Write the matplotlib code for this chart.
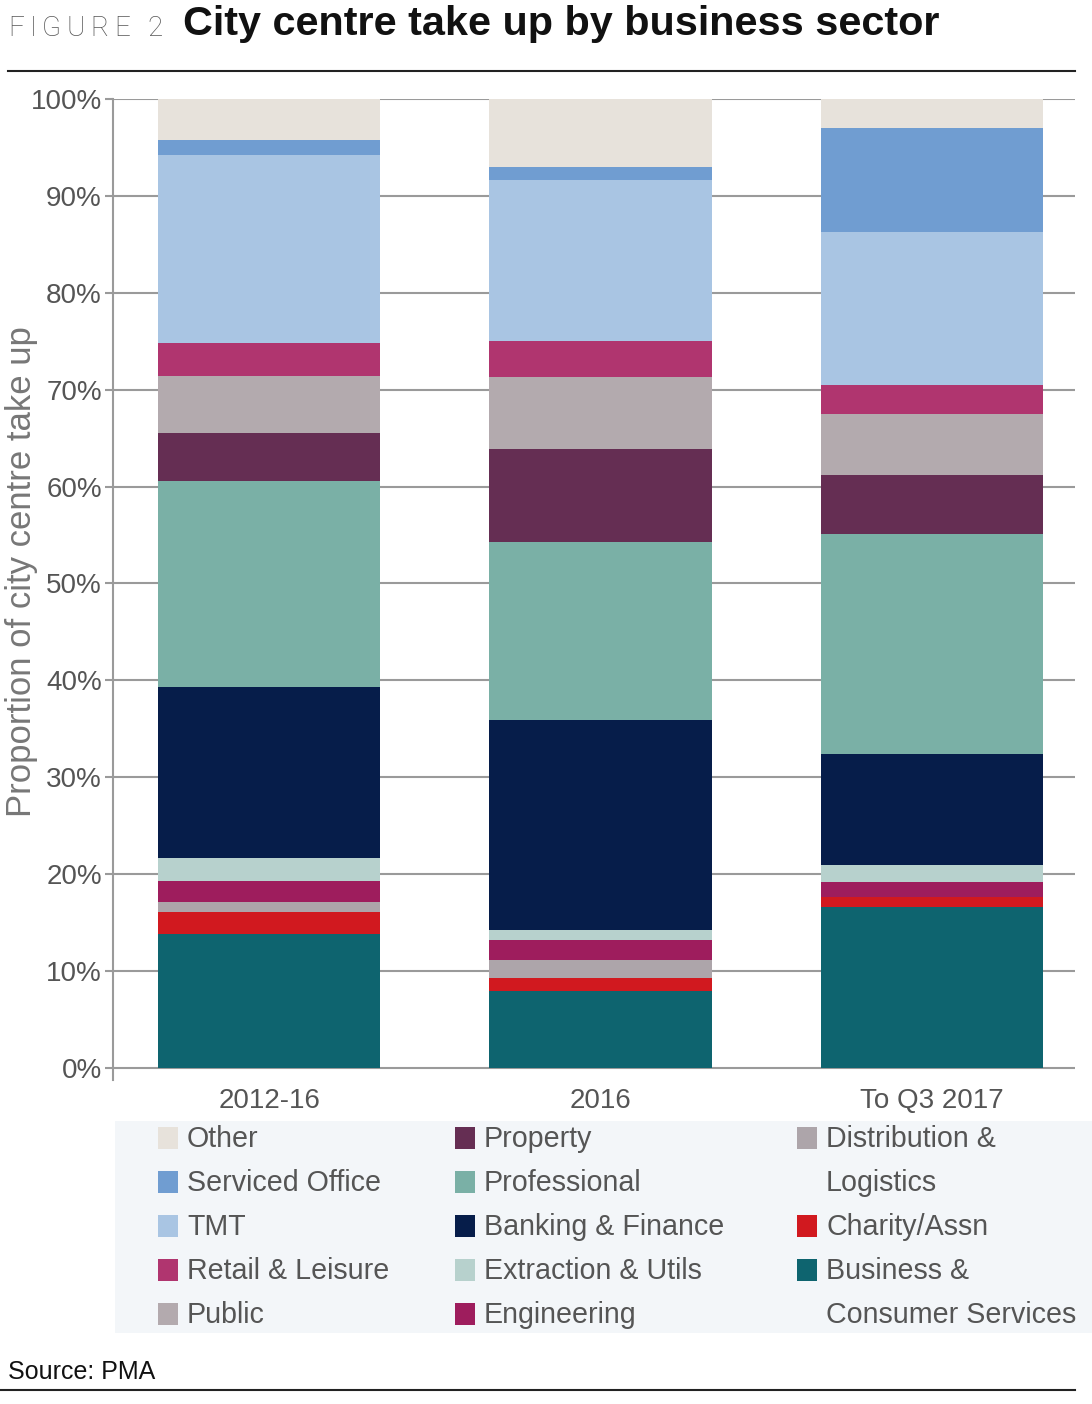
import matplotlib
matplotlib.use("Agg")
import matplotlib.pyplot as plt
from matplotlib.patches import Rectangle
import numpy as np

plt.rcParams['font.family'] = ['Liberation Sans', 'DejaVu Sans']

periods = ["2012-16", "2016", "To Q3 2017"]

# stack order, bottom to top
sectors = ["Business & Consumer Services", "Charity/Assn", "Distribution & Logistics",
           "Engineering", "Extraction & Utils", "Banking & Finance", "Professional",
           "Property", "Public", "Retail & Leisure", "TMT", "Serviced Office", "Other"]

business = [13.8, 7.9, 16.6]
charity = [2.3, 1.4, 1.0]
distribution = [1.0, 1.8, 0.0]
engineering = [2.2, 2.1, 1.6]
extraction = [2.4, 1.0, 1.7]
banking = [17.6, 21.7, 11.5]
professional = [21.3, 18.4, 22.7]
property_ = [4.9, 9.6, 6.1]
public = [5.9, 7.4, 6.3]
retail = [3.4, 3.7, 3.0]
tmt = [19.4, 16.6, 15.8]
serviced = [1.6, 1.4, 10.7]
other = [4.2, 7.0, 3.0]

series = [business, charity, distribution, engineering, extraction, banking,
          professional, property_, public, retail, tmt, serviced, other]

colors = {
    "Business & Consumer Services": "#0e646f",
    "Charity/Assn": "#d1191f",
    "Distribution & Logistics": "#ada5aa",
    "Engineering": "#9e1d5d",
    "Extraction & Utils": "#b7d1cd",
    "Banking & Finance": "#061d4a",
    "Professional": "#7ab0a6",
    "Property": "#652e53",
    "Public": "#b3aaae",
    "Retail & Leisure": "#b0356f",
    "TMT": "#a9c5e3",
    "Serviced Office": "#709dd1",
    "Other": "#e7e2db",
}

# legend layout (column-major, as in the figure)
legend_cols = [
    ["Other", "Serviced Office", "TMT", "Retail & Leisure", "Public"],
    ["Property", "Professional", "Banking & Finance", "Extraction & Utils", "Engineering"],
    ["Distribution & Logistics", "Charity/Assn", "Business & Consumer Services"],
]
legend_text = {
    "Distribution & Logistics": "Distribution &\nLogistics",
    "Business & Consumer Services": "Business &\nConsumer Services",
}

W, H = 1092, 1404
fig = plt.figure(figsize=(W / 100, H / 100), dpi=100)

def fx(px):
    return px / W

def fy(py):
    return 1 - py / H

ax = fig.add_axes([fx(113), fy(1080), fx(1075) - fx(113), fy(99) - fy(1080)])

x = np.arange(len(periods))
bottom = np.zeros(len(periods))
for name, vals in zip(sectors, series):
    ax.bar(x, vals, width=0.671, bottom=bottom, color=colors[name], linewidth=0, zorder=3)
    bottom += np.array(vals)

ax.set_xlim(-0.471, 2.432)
ax.set_ylim(-1.25, 100)
ax.set_yticks(range(0, 101, 10))
ax.set_yticklabels([f"{v}%" for v in range(0, 101, 10)], fontsize=20, color="#555555")
ax.set_xticks(x)
ax.set_xticklabels(periods, fontsize=20, color="#555555")
ax.tick_params(axis="x", length=0, pad=6)
ax.tick_params(axis="y", length=6, width=1.5, color="#9a9a9a", pad=2)
ax.yaxis.grid(True, color="#9a9a9a", linewidth=1.5, zorder=0)
ax.set_axisbelow(True)
for s in ["top", "right", "bottom"]:
    ax.spines[s].set_visible(False)
ax.spines["left"].set_color("#9a9a9a")
ax.spines["left"].set_linewidth(1.5)

fig.text(fx(22), fy(572), "Proportion of city centre take up", rotation=90,
         fontsize=25, color="#777777", ha="center", va="center")

# title: "FIGURE 2" with letter tracking, then bold title
renderer = fig.canvas.get_renderer()
pos = 8
for ch in "FIGURE 2":
    t = fig.text(fx(pos), fy(29), ch, fontsize=20, color="#555555",
                 family=["Roboto", "DejaVu Sans"], fontweight="light", ha="left", va="center")
    w = t.get_window_extent(renderer).width
    if ch == " ":
        w = 6
    pos += w + 5.5
fig.text(fx(183), fy(24), "City centre take up by business sector", fontsize=29.8,
         fontweight="bold", color="#111111", ha="left", va="center")
fig.add_artist(plt.Line2D([fx(8), fx(1075)], [fy(71), fy(71)], color="#222222", linewidth=1.5))

# legend
fig.add_artist(Rectangle((fx(115), fy(1333)), fx(1092) - fx(115), fy(1121) - fy(1333),
                         facecolor="#f3f6f9", edgecolor="none"))
col_x = [158, 455, 797]
row_y = [1139, 1183, 1227, 1271, 1315]
for cx, names in zip(col_x, legend_cols):
    row = 0
    for name in names:
        cy = row_y[row] - 1
        fig.add_artist(Rectangle((fx(cx), fy(cy + 11)), fx(20), fy(cy - 11) - fy(cy + 11),
                                 facecolor=colors[name], edgecolor="none"))
        label = legend_text.get(name, name)
        lines = label.split("\n")
        for i, line in enumerate(lines):
            fig.text(fx(cx + 29), fy(row_y[row + i]), line, fontsize=20.6, color="#555555",
                     ha="left", va="center")
        row += len(lines)

fig.text(fx(8), fy(1372), "Source: PMA", fontsize=18, color="#111111", ha="left", va="center")
fig.add_artist(plt.Line2D([0, fx(1075)], [fy(1390), fy(1390)], color="#222222", linewidth=1.5))

fig.savefig("out.png", dpi=100)
